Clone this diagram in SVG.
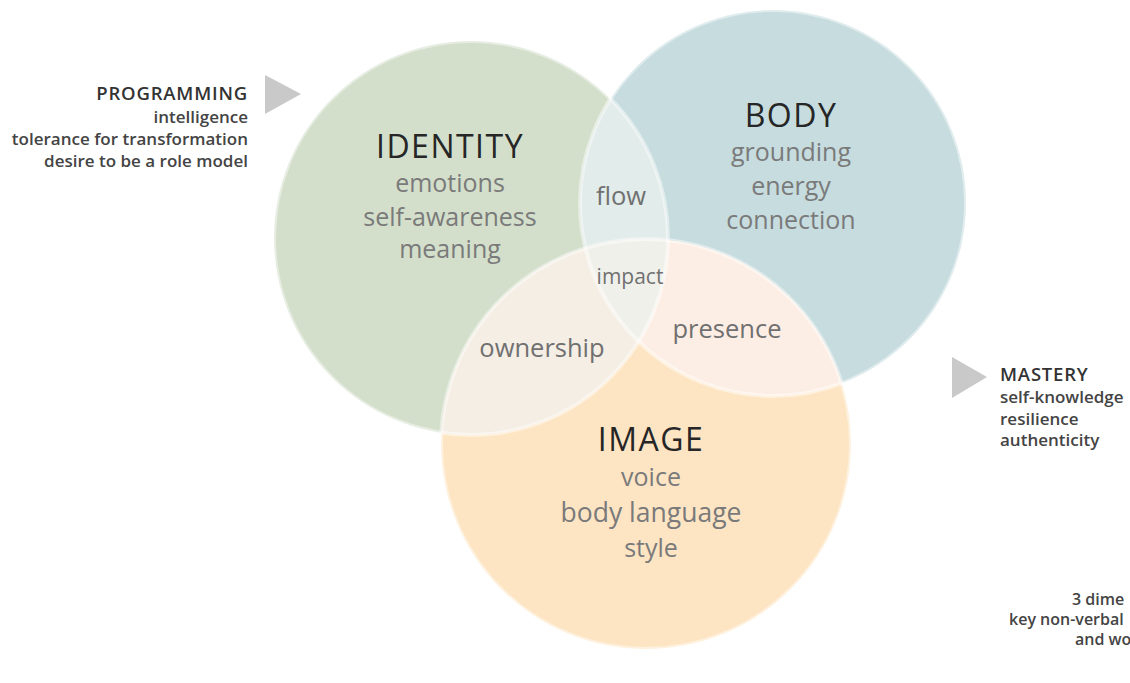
<svg xmlns="http://www.w3.org/2000/svg" width="1130" height="683" viewBox="0 0 1130 683">
<style>
.head{font-family:"Open Sans","DejaVu Sans",sans-serif;font-size:32px;fill:#262626;text-anchor:middle;letter-spacing:1.5px}
.item{font-family:"Open Sans","DejaVu Sans",sans-serif;font-size:25px;fill:#7a7a7a;text-anchor:middle}
.ov{font-family:"Open Sans","DejaVu Sans",sans-serif;font-size:25.5px;fill:#707070;text-anchor:middle}
.side{font-family:"Open Sans","DejaVu Sans",sans-serif;font-size:17px;font-weight:600;fill:#444}
.foot{font-family:"Open Sans","DejaVu Sans",sans-serif;font-size:16px;font-weight:600;fill:#444}
.sidehead{font-family:"Open Sans","DejaVu Sans",sans-serif;font-size:18.5px;font-weight:600;fill:#333;letter-spacing:0.8px}
.tri{fill:#c9c9c9}
.rim{fill:none;stroke:#ffffff;stroke-opacity:0.45;stroke-width:4}
</style>
<defs>
<clipPath id="cg"><circle cx="471" cy="238" r="197"/></clipPath>
<clipPath id="cb"><circle cx="773" cy="203" r="193"/></clipPath>
<clipPath id="cp"><circle cx="646" cy="444" r="205"/></clipPath>
</defs>
<rect width="1130" height="683" fill="#ffffff"/>
<g id="identity">
<circle cx="471" cy="238" r="197" fill="#d3dfcb"/>
</g>
<g id="body">
<circle cx="773" cy="203" r="193" fill="#c6dcde"/>
</g>
<g id="image">
<circle cx="646" cy="444" r="205" fill="#fde5c4"/>
</g>
<g id="overlaps">
<g clip-path="url(#cg)"><circle cx="773" cy="203" r="193" fill="#e2ecea"/></g>
<g clip-path="url(#cg)"><circle cx="646" cy="444" r="205" fill="#f5eee5"/></g>
<g clip-path="url(#cb)"><circle cx="646" cy="444" r="205" fill="#fdeee5"/></g>
<g clip-path="url(#cg)"><g clip-path="url(#cb)"><circle cx="646" cy="444" r="205" fill="#f0f0eb"/></g></g>
</g>
<g id="rims">
<circle class="rim" cx="471" cy="238" r="197"/>
<circle class="rim" cx="773" cy="203" r="193"/>
<circle class="rim" cx="646" cy="444" r="205"/>
</g>
<g id="identity-text">
<text class="head" x="450" y="158">IDENTITY</text>
<text class="item" x="450" y="192">emotions</text>
<text class="item" x="450" y="226">self-awareness</text>
<text class="item" x="450" y="258">meaning</text>
</g>
<g id="body-text">
<text class="head" x="791" y="127">BODY</text>
<text class="item" x="791" y="161">grounding</text>
<text class="item" x="791" y="195">energy</text>
<text class="item" x="791" y="229">connection</text>
</g>
<g id="image-text">
<text class="head" x="651" y="451">IMAGE</text>
<text class="item" x="651" y="486">voice</text>
<text class="item" x="651" y="522" style="font-size:26.5px">body language</text>
<text class="item" x="651" y="557">style</text>
</g>
<g id="overlap-text">
<text class="ov" x="621" y="205">flow</text>
<text class="ov" x="630" y="284" style="font-size:21px">impact</text>
<text class="ov" x="542" y="357">ownership</text>
<text class="ov" x="727" y="338">presence</text>
</g>
<g id="programming">
<polygon class="tri" points="265,75 265,114 301,94"/>
<text class="sidehead" x="248" y="100" text-anchor="end">PROGRAMMING</text>
<text class="side" x="248" y="123" text-anchor="end">intelligence</text>
<text class="side" x="248" y="145" text-anchor="end">tolerance for transformation</text>
<text class="side" x="248" y="167" text-anchor="end">desire to be a role model</text>
</g>
<g id="mastery">
<polygon class="tri" points="952,357 952,398 987,377"/>
<text class="sidehead" x="1000" y="381">MASTERY</text>
<text class="side" x="1000" y="403">self-knowledge</text>
<text class="side" x="1000" y="425">resilience</text>
<text class="side" x="1000" y="446">authenticity</text>
</g>
<g id="footnote">
<text class="foot" x="1072" y="605">3 dime</text>
<text class="foot" x="1009" y="625">key non-verbal</text>
<text class="foot" x="1075" y="645">and wo</text>
</g>
</svg>
